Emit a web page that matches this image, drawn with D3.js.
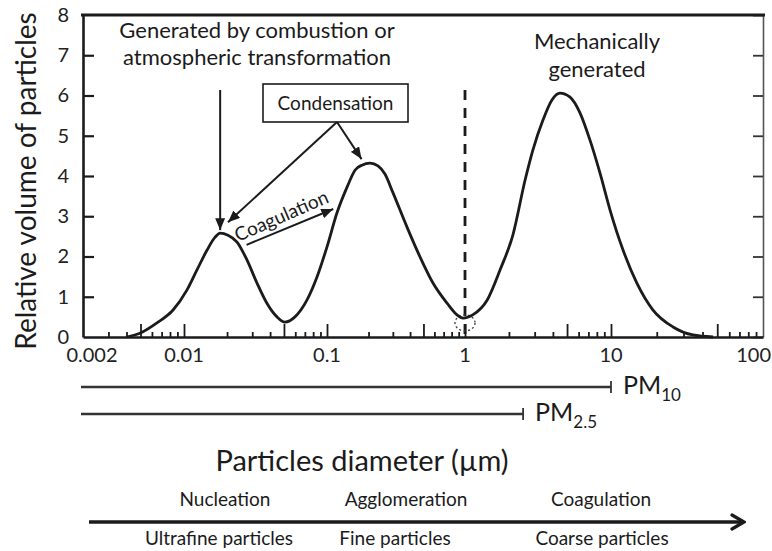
<!DOCTYPE html>
<html>
<head>
<meta charset="utf-8">
<script src="https://cdn.jsdelivr.net/npm/d3@7"></script>
<style>
  html, body { margin: 0; padding: 0; background: #fff; }
  svg { display: block; }
</style>
</head>
<body>
<svg id="chart" width="772" height="551"></svg>
<script>
// Particle size distribution: relative volume against particle diameter (µm)
const diameters = [0.0040, 0.0050, 0.0065, 0.0084, 0.0105, 0.0123, 0.0145, 0.0165, 0.0179, 0.0203,
  0.0235, 0.0276, 0.0324, 0.038, 0.0447, 0.0508, 0.0597, 0.0725, 0.0851, 0.1,
  0.118, 0.140, 0.160, 0.179, 0.205, 0.234, 0.263, 0.301, 0.380, 0.472,
  0.586, 0.741, 0.875, 0.968, 1.13, 1.42, 1.74, 2.13, 2.58, 2.92,
  3.42, 3.94, 4.47, 5.24, 6.13, 7.18, 8.41, 9.84, 12.0, 14.8,
  18.9, 25.6, 34.6, 46.9];
const volumes = [0, 0.10, 0.35, 0.67, 1.17, 1.66, 2.16, 2.48, 2.58, 2.53,
  2.36, 1.91, 1.34, 0.84, 0.50, 0.37, 0.50, 0.92, 1.49, 2.24,
  3.08, 3.73, 4.15, 4.27, 4.32, 4.25, 4.05, 3.58, 2.73, 1.99,
  1.34, 0.84, 0.55, 0.47, 0.55, 0.92, 1.67, 2.54, 3.90, 4.65,
  5.39, 5.89, 6.06, 5.96, 5.57, 4.89, 4.07, 3.16, 2.16, 1.34,
  0.67, 0.25, 0.05, 0];

// Axis ticks
const xTickValues = [0.002, 0.01, 0.1, 1, 10, 100];
const xTickLabels = ["0.002", "0.01", "0.1", "1", "10", "100"];
const yTickValues = [0, 1, 2, 3, 4, 5, 6, 7, 8];

// PM size fractions (upper cut-off diameter, µm)
const pmCutoffs = [10, 2.5];
const pmSubscripts = ["10", "2.5"];
const pmSplit = 1; // fine / coarse boundary, µm

// Formation processes and size classes along the bottom
const processLabels = ["Nucleation", "Agglomeration", "Coagulation"];
const sizeClassLabels = ["Ultrafine particles", "Fine particles", "Coarse particles"];

// ---------------------------------------------------------------
const FONT = "Lato, 'Open Sans', 'DejaVu Sans', sans-serif";
const INK = "#1b1b1b";
const svg = d3.select("#chart").style("font-family", FONT);

const plot = { left: 83, right: 763, top: 15, bottom: 337 };

// log axis, hand-spaced decades
const x = d3.scaleLog()
  .domain(xTickValues)
  .range([plot.left, 184, 327, 465, 611, plot.right]);
const y = d3.scaleLinear().domain([0, 8]).range([plot.bottom, plot.top]);

// arrowhead markers
const defs = svg.append("defs");
defs.append("marker")
  .attr("id", "head").attr("markerUnits", "userSpaceOnUse")
  .attr("viewBox", "0 0 12 10").attr("markerWidth", 12).attr("markerHeight", 10)
  .attr("refX", 12).attr("refY", 5).attr("orient", "auto")
  .append("path").attr("d", "M0,0 L12,5 L0,10 Z").attr("fill", INK);
defs.append("marker")
  .attr("id", "chevron").attr("markerUnits", "userSpaceOnUse")
  .attr("viewBox", "0 0 16 18").attr("markerWidth", 16).attr("markerHeight", 18)
  .attr("refX", 14).attr("refY", 9).attr("orient", "auto")
  .append("path").attr("d", "M2,2 L14,9 L2,16").attr("fill", "none")
  .attr("stroke", INK).attr("stroke-width", 3.2).attr("stroke-linecap", "round");

// ---- frame -------------------------------------------------------
// right axis (thin, ticks pointing in)
const right = svg.append("g").attr("transform", `translate(${plot.right},0)`)
  .call(d3.axisRight(y).tickValues(yTickValues).tickSize(-10).tickSizeOuter(0).tickFormat(""));
right.select(".domain").attr("stroke", "#555").attr("stroke-width", 1.6);
right.selectAll(".tick line").attr("stroke", "#333").attr("stroke-width", 1.8);

// left axis
const left = svg.append("g").attr("transform", `translate(${plot.left},0)`)
  .call(d3.axisLeft(y).tickValues(yTickValues).tickSize(-11).tickSizeOuter(0).tickPadding(14));
left.select(".domain").attr("stroke", INK).attr("stroke-width", 2.6);
left.selectAll(".tick line").attr("stroke", INK).attr("stroke-width", 2.2);
left.selectAll(".tick text").attr("font-size", 20).attr("fill", "#222").attr("font-family", FONT);
left.selectAll(".tick").filter(d => d === 0 || d === 8).select("line").remove();

// top border
svg.append("line")
  .attr("x1", plot.left - 2).attr("x2", plot.right + 2)
  .attr("y1", plot.top).attr("y2", plot.top)
  .attr("stroke", INK).attr("stroke-width", 3.2);

// bottom axis: minor ticks point up into the plot
const minor = x.ticks().filter(v => v > xTickValues[0] && v < xTickValues[xTickValues.length - 1]);
const leading = v => Math.round(v / Math.pow(10, Math.floor(Math.log10(v) + 1e-9)));
const bottom = svg.append("g").attr("transform", `translate(0,${plot.bottom})`)
  .call(d3.axisBottom(x).tickValues(minor).tickSizeOuter(0).tickFormat(""));
bottom.select(".domain").attr("stroke", INK).attr("stroke-width", 2.4);
bottom.selectAll(".tick line")
  .attr("y2", d => (leading(d) === 5 || leading(d) === 1) ? -13 : -5)
  .attr("stroke", INK).attr("stroke-width", 1.8);

// tick labels (outer ones nudged inside the frame)
const last = xTickValues.length - 1;
svg.append("g").selectAll("text").data(xTickValues).join("text")
  .attr("x", (d, i) => x(d) + (i === 0 ? 9 : i === last ? 8 : 0))
  .attr("y", plot.bottom + 25)
  .attr("text-anchor", (d, i) => i === last ? "end" : "middle")
  .attr("font-size", 20).attr("fill", "#222")
  .text((d, i) => xTickLabels[i]);

// ---- axis titles -----------------------------------------------------
svg.append("text")
  .attr("transform", `translate(36,181) rotate(-90)`)
  .attr("text-anchor", "middle").attr("font-size", 28).attr("fill", INK)
  .text("Relative volume of particles");

svg.append("text")
  .attr("x", 362).attr("y", 471)
  .attr("text-anchor", "middle").attr("font-size", 29).attr("fill", INK)
  .text("Particles diameter (µm)");

// ---- 1 µm divider ------------------------------------------------------
svg.append("line")
  .attr("x1", x(pmSplit)).attr("x2", x(pmSplit))
  .attr("y1", 90).attr("y2", plot.bottom)
  .attr("stroke", INK).attr("stroke-width", 2.8).attr("stroke-dasharray", "10,8");
svg.append("ellipse")
  .attr("cx", x(pmSplit)).attr("cy", y(0.35)).attr("rx", 10).attr("ry", 8)
  .attr("fill", "none").attr("stroke", "#444").attr("stroke-width", 1.4)
  .attr("stroke-dasharray", "2,2.5");

// ---- distribution curve ---------------------------------------------
const pts = diameters.map((d, i) => [d, volumes[i]]);
svg.append("path")
  .datum(pts)
  .attr("fill", "none").attr("stroke", INK).attr("stroke-width", 2.8)
  .attr("stroke-linejoin", "round")
  .attr("d", d3.line().x(d => x(d[0])).y(d => y(d[1])).curve(d3.curveMonotoneX));

// ---- annotations -------------------------------------------------------
const ann = svg.append("g").attr("fill", INK).attr("font-size", 22);
ann.append("text").attr("x", 257).attr("y", 38).attr("text-anchor", "middle")
  .text("Generated by combustion or");
ann.append("text").attr("x", 257).attr("y", 65).attr("text-anchor", "middle")
  .text("atmospheric transformation");
ann.append("text").attr("x", 597).attr("y", 49).attr("text-anchor", "middle")
  .text("Mechanically");
ann.append("text").attr("x", 597).attr("y", 77).attr("text-anchor", "middle")
  .text("generated");

const arrow = (x1, y1, x2, y2) => svg.append("line")
  .attr("x1", x1).attr("y1", y1).attr("x2", x2).attr("y2", y2)
  .attr("stroke", INK).attr("stroke-width", 2).attr("marker-end", "url(#head)");

// nucleation-mode peak
const peak1 = diameters[volumes.indexOf(d3.max(volumes.slice(0, 15)))];
arrow(x(peak1), 90, x(peak1), y(2.58) - 3);

// condensation box with its two arrows
const box = { x: 263, y: 84, w: 145, h: 38 };
svg.append("rect").attr("x", box.x).attr("y", box.y).attr("width", box.w).attr("height", box.h)
  .attr("fill", "#fff").attr("stroke", INK).attr("stroke-width", 1.6);
svg.append("text").attr("x", box.x + box.w / 2).attr("y", box.y + 26)
  .attr("text-anchor", "middle").attr("font-size", 19).attr("fill", INK)
  .text("Condensation");
const bx = box.x + 74, by = box.y + box.h;
arrow(bx, by, x(0.178), y(4.42));
arrow(bx, by, x(0.0203), y(2.85));

// coagulation arrow between the two fine modes
arrow(x(0.0274), y(2.29), x(0.111), y(3.18));
svg.append("text")
  .attr("transform", `translate(284,222) rotate(-23.5)`)
  .attr("text-anchor", "middle").attr("font-size", 19).attr("fill", INK)
  .text("Coagulation");

// ---- PM fractions -------------------------------------------------------
const pmRows = [387, 414];
pmCutoffs.forEach((c, i) => {
  const g = svg.append("g");
  g.append("line").attr("x1", x(xTickValues[0]) - 2).attr("x2", x(c))
    .attr("y1", pmRows[i]).attr("y2", pmRows[i])
    .attr("stroke", "#333").attr("stroke-width", 2.4);
  g.append("line").attr("x1", x(c)).attr("x2", x(c))
    .attr("y1", pmRows[i] - 6).attr("y2", pmRows[i] + 6)
    .attr("stroke", "#333").attr("stroke-width", 1.8);
  const t = g.append("text").attr("x", x(c) + 12).attr("y", pmRows[i] + 7)
    .attr("font-size", 25).attr("fill", INK);
  t.append("tspan").text("PM");
  t.append("tspan").attr("font-size", 17).attr("dy", 7).text(pmSubscripts[i]);
});

// ---- processes / size classes -----------------------------------------
const bandCenters = [225, 406, 601];
svg.append("g").selectAll("text").data(processLabels).join("text")
  .attr("x", (d, i) => bandCenters[i]).attr("y", 506)
  .attr("text-anchor", "middle").attr("font-size", 19).attr("fill", INK)
  .text(d => d);
svg.append("line")
  .attr("x1", 89).attr("x2", 744).attr("y1", 522).attr("y2", 522)
  .attr("stroke", INK).attr("stroke-width", 3.6).attr("marker-end", "url(#chevron)");
svg.append("g").selectAll("text").data(sizeClassLabels).join("text")
  .attr("x", (d, i) => bandCenters[i] + [-6, -11, 1][i]).attr("y", 545)
  .attr("text-anchor", "middle").attr("font-size", 19).attr("fill", INK)
  .text(d => d);
</script>
</body>
</html>
